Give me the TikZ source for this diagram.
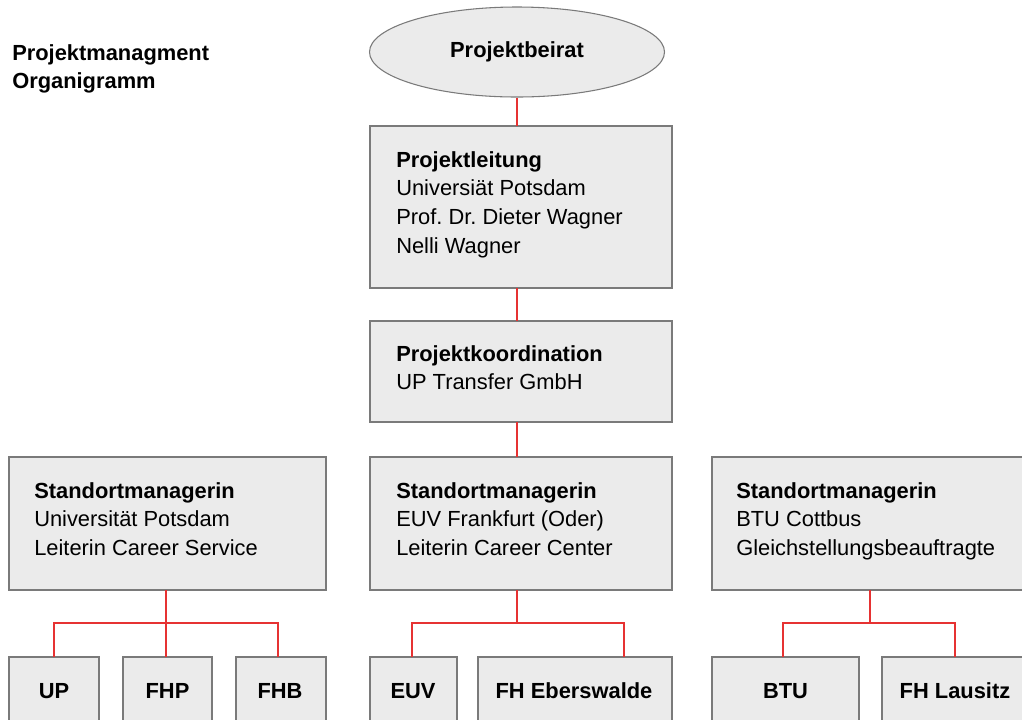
\documentclass[tikz,border=0pt]{standalone}
\usepackage{fontspec}
\setmainfont{Liberation Sans}
\usetikzlibrary{shapes.geometric,calc}
\definecolor{boxfill}{RGB}{235,235,235}
\definecolor{boxline}{RGB}{122,122,122}
\definecolor{conncol}{RGB}{230,50,50}
\frenchspacing
\newcommand\pxbox[5]{\node[orgbox, minimum width={(#4-#2)*0.75pt}, minimum height={(#5-#3)*0.75pt}] (#1) at ({(#2+#4)/2},{(#3+#5)/2}) {};}
\newcommand\lines[1]{\begin{tabular}[t]{@{}l@{}}#1\end{tabular}}
\tikzset{
  orgbox/.style={draw=boxline, fill=boxfill, line width=0.8pt, inner sep=0pt, outer sep=0pt},
  conn/.style={color=conncol, line width=0.9pt},
  txt/.style={anchor=base west, inner sep=0pt, text=black},
  lbl/.style={anchor=base, inner sep=0pt, text=black, font=\fontsize{16.4}{21.5}\selectfont\bfseries},
}
\begin{document}
\begin{tikzpicture}[x=0.75pt, y=-0.75pt, font=\fontsize{16.4}{21.5}\selectfont]
\useasboundingbox (0,0) rectangle (1022,719);
% title
\node[txt] (title) at (12,60) {\lines{\textbf{Projektmanagment}\\\textbf{Organigramm}}};
% ellipse
\node[ellipse, draw=boxline, fill=boxfill, line width=0.8pt, minimum width={295*0.75pt}, minimum height={90*0.75pt}, inner sep=0pt, font=\fontsize{16.4}{21.5}\selectfont\bfseries] (beirat) at (517,52) {Projektbeirat};
% boxes
\pxbox{leit}{370}{126}{672}{288}
\pxbox{koord}{370}{321}{672}{422}
\pxbox{smA}{9}{457}{326}{590}
\pxbox{smB}{370}{457}{672}{590}
\pxbox{smC}{712}{457}{1028}{590}
\pxbox{up}{9}{657}{99}{730}
\pxbox{fhp}{123}{657}{212}{730}
\pxbox{fhb}{236}{657}{326}{730}
\pxbox{euv}{370}{657}{457}{730}
\pxbox{ebw}{478}{657}{672}{730}
\pxbox{btu}{712}{657}{859}{730}
\pxbox{fhl}{882}{657}{1028}{730}
% texts
\node[txt] (leit-t) at (396,167) {\lines{\textbf{Projektleitung}\\Universiät Potsdam\\Prof. Dr. Dieter Wagner\\Nelli Wagner}};
\node[txt] (koord-t) at (396,361) {\lines{\textbf{Projektkoordination}\\UP Transfer GmbH}};
\node[txt] (smA-t) at (34,498) {\lines{\textbf{Standortmanagerin}\\Universität Potsdam\\Leiterin Career Service}};
\node[txt] (smB-t) at (396,498) {\lines{\textbf{Standortmanagerin}\\EUV Frankfurt (Oder)\\Leiterin Career Center}};
\node[txt] (smC-t) at (736,498) {\lines{\textbf{Standortmanagerin}\\BTU Cottbus\\Gleichstellungsbeauftragte}};
\node[lbl] (up-t) at (54,698) {UP};
\node[lbl] (fhp-t) at (167.5,698) {FHP};
\node[lbl] (fhb-t) at (280,698) {FHB};
\node[lbl] (euv-t) at (413,698) {EUV};
\node[lbl] (ebw-t) at (574,698) {FH Eberswalde};
\node[lbl] (btu-t) at (785.5,698) {BTU};
\node[lbl] (fhl-t) at (955,698) {FH Lausitz};
% bar coordinates
\coordinate (spine) at (517,0);
\coordinate (a1) at (54,623);
\coordinate (a2) at (166,623);
\coordinate (a3) at (278,623);
\coordinate (b1) at (412,623);
\coordinate (b2) at (517,623);
\coordinate (b3) at (624,623);
\coordinate (c1) at (783,623);
\coordinate (c2) at (870,623);
\coordinate (c3) at (955,623);
% connectors
\draw[conn] (beirat.south) -- (beirat.south |- leit.north);
\draw[conn] (leit.south -| spine) -- (koord.north -| spine);
\draw[conn] (koord.south -| spine) -- (smB.north -| spine);
% left group
\draw[conn] (smA.south -| a2) -- (a2);
\draw[conn] (up.north -| a1) -- (a1) -- (a3) -- (fhb.north -| a3);
\draw[conn] (a2) -- (fhp.north -| a2);
% middle group
\draw[conn] (smB.south -| b2) -- (b2);
\draw[conn] (euv.north -| b1) -- (b1) -- (b3) -- (ebw.north -| b3);
% right group
\draw[conn] (smC.south -| c2) -- (c2);
\draw[conn] (btu.north -| c1) -- (c1) -- (c3) -- (fhl.north -| c3);
\end{tikzpicture}
\end{document}
